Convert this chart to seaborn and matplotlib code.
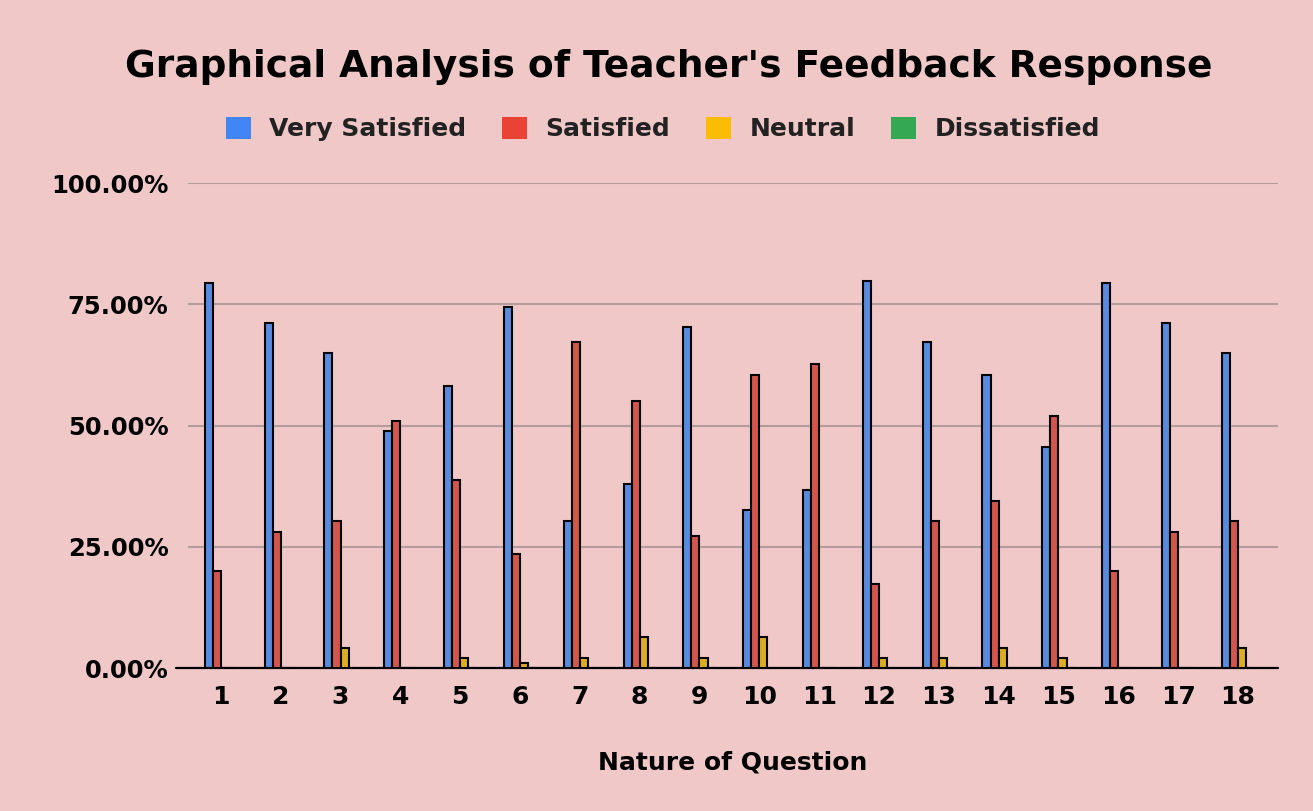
import matplotlib
matplotlib.use("Agg")
import matplotlib.pyplot as plt
from matplotlib.patches import Patch
import seaborn as sns
import pandas as pd

questions = [str(i) for i in range(1, 19)]
very_satisfied = [79.3, 71.2, 65.0, 48.8, 58.2, 74.4, 30.3, 37.9, 70.3, 32.6,
                  36.6, 79.8, 67.2, 60.4, 45.6, 79.3, 71.2, 65.0]
satisfied = [20.0, 28.0, 30.3, 51.0, 38.8, 23.6, 67.2, 55.1, 27.2, 60.5,
             62.7, 17.3, 30.3, 34.4, 51.9, 20.0, 28.0, 30.3]
neutral = [0, 0, 4.2, 0, 2.0, 1.0, 2.0, 6.4, 2.0, 6.4,
           0, 2.0, 2.0, 4.2, 2.0, 0, 0, 4.2]
dissatisfied = [0] * 18
series_names = ["Very Satisfied", "Satisfied", "Neutral", "Dissatisfied"]
colors = ["#4285F4", "#EA4335", "#FBBC04", "#34A853"]
y_ticks = [0, 25, 50, 75, 100]
y_tick_labels = ["0.00%", "25.00%", "50.00%", "75.00%", "100.00%"]

wide = pd.DataFrame({"Question": questions,
                     "Very Satisfied": very_satisfied,
                     "Satisfied": satisfied,
                     "Neutral": neutral,
                     "Dissatisfied": dissatisfied})
df = wide.melt(id_vars="Question", var_name="Response", value_name="Value")

bg = "#F1C8C8"
sns.set_theme(style="white")
plt.rcParams["font.family"] = ["DejaVu Sans"]

fig = plt.figure(figsize=(13.13, 8.11), dpi=100, facecolor=bg)
ax = fig.add_axes([188 / 1313, 143 / 811, 1090 / 1313, 485 / 811])
ax.set_facecolor(bg)

sns.barplot(data=df, x="Question", y="Value", hue="Response",
            hue_order=series_names, palette=colors, width=0.54,
            edgecolor="black", linewidth=1.5, ax=ax, legend=False,
            errorbar=None, zorder=3)

ax.set_xlim(-0.55, 17.67)
ax.set_ylim(0, 100)
ax.set_yticks(y_ticks)
ax.set_yticklabels(y_tick_labels)
ax.yaxis.grid(True, color="#B49C9C", linewidth=1.5, zorder=0)
ax.set_axisbelow(True)
for s in ["top", "right", "left", "bottom"]:
    ax.spines[s].set_visible(False)
ax.axhline(0, xmin=-0.011, xmax=1.0, color="black", linewidth=1.6,
           clip_on=False, zorder=2.5)
ax.tick_params(axis="both", length=0)
ax.tick_params(axis="y", pad=14, labelsize=17.5)
ax.tick_params(axis="x", pad=12, labelsize=18)
for lbl in ax.get_xticklabels() + ax.get_yticklabels():
    lbl.set_fontweight("bold")
    lbl.set_color("black")

ax.set_ylabel("")
ax.set_xlabel("Nature of Question", fontsize=18, fontweight="bold", color="black")
ax.xaxis.set_label_coords(0.5, -0.17)

fig.text(669 / 1313, 1 - 67 / 811, "Graphical Analysis of Teacher's Feedback Response",
         ha="center", va="center", fontsize=27, fontweight="bold", color="black")

handles = [Patch(facecolor=c, edgecolor="none") for c in colors]
leg = fig.legend(handles, series_names, loc="center", ncol=4,
                 bbox_to_anchor=(663 / 1313, 1 - 129 / 811), frameon=False,
                 prop={"weight": "bold", "size": 18},
                 handlelength=1.0, handleheight=1.0, handletextpad=0.72,
                 columnspacing=1.45)
for t in leg.get_texts():
    t.set_color("#222222")

fig.savefig("out.png", dpi=100, facecolor=bg)
